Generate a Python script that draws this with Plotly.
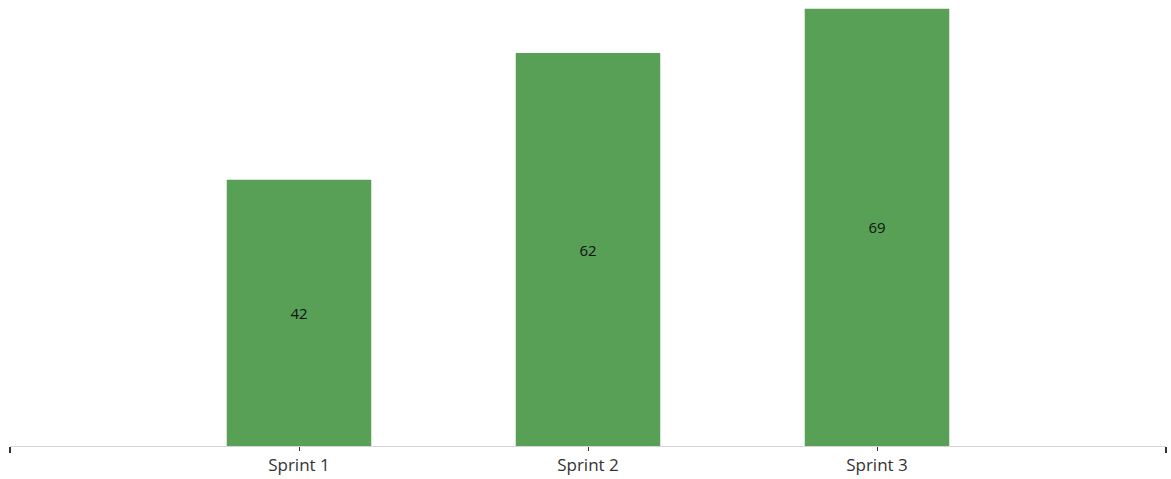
import plotly.graph_objects as go

categories = ["Sprint 1", "Sprint 2", "Sprint 3"]
values = [42, 62, 69]

fig = go.Figure()
fig.add_trace(go.Bar(
    x=categories, y=values, width=0.5,
    marker=dict(color="#58A056", line=dict(width=0)),
    text=[str(v) for v in values], textposition="inside",
    insidetextanchor="middle",
    textfont=dict(family="Open Sans, DejaVu Sans, sans-serif", size=15, color="#111111"),
    hoverinfo="x+y",
))
# invisible trace on overlay axis for end ticks
fig.add_trace(go.Scatter(x=[-1, 3], y=[0, 0], xaxis="x2", mode="markers",
                         marker=dict(opacity=0), showlegend=False, hoverinfo="skip"))

fig.update_layout(
    width=1171, height=479,
    margin=dict(l=10, r=5, t=0, b=33),
    plot_bgcolor="white", paper_bgcolor="white",
    showlegend=False,
    font=dict(family="Open Sans, DejaVu Sans, sans-serif", size=17, color="#333333"),
    xaxis=dict(
        range=[-1, 3], showgrid=False, zeroline=False,
        showline=True, linecolor="#d6d6d6", linewidth=1,
        ticks="outside", ticklen=4, tickcolor="#333333", tickwidth=1,
        tickfont=dict(size=17, color="#333333"),
    ),
    xaxis2=dict(
        range=[-1, 3], overlaying="x", side="bottom", showgrid=False,
        zeroline=False, showline=False, ticks="outside", ticklen=6,
        tickcolor="#333333", tickwidth=1.5, tickvals=[-1, 3],
        showticklabels=False,
    ),
    yaxis=dict(range=[0, 70.38], visible=False, showgrid=False, zeroline=False),
    bargap=0.5,
)

fig.write_html("out.html")
